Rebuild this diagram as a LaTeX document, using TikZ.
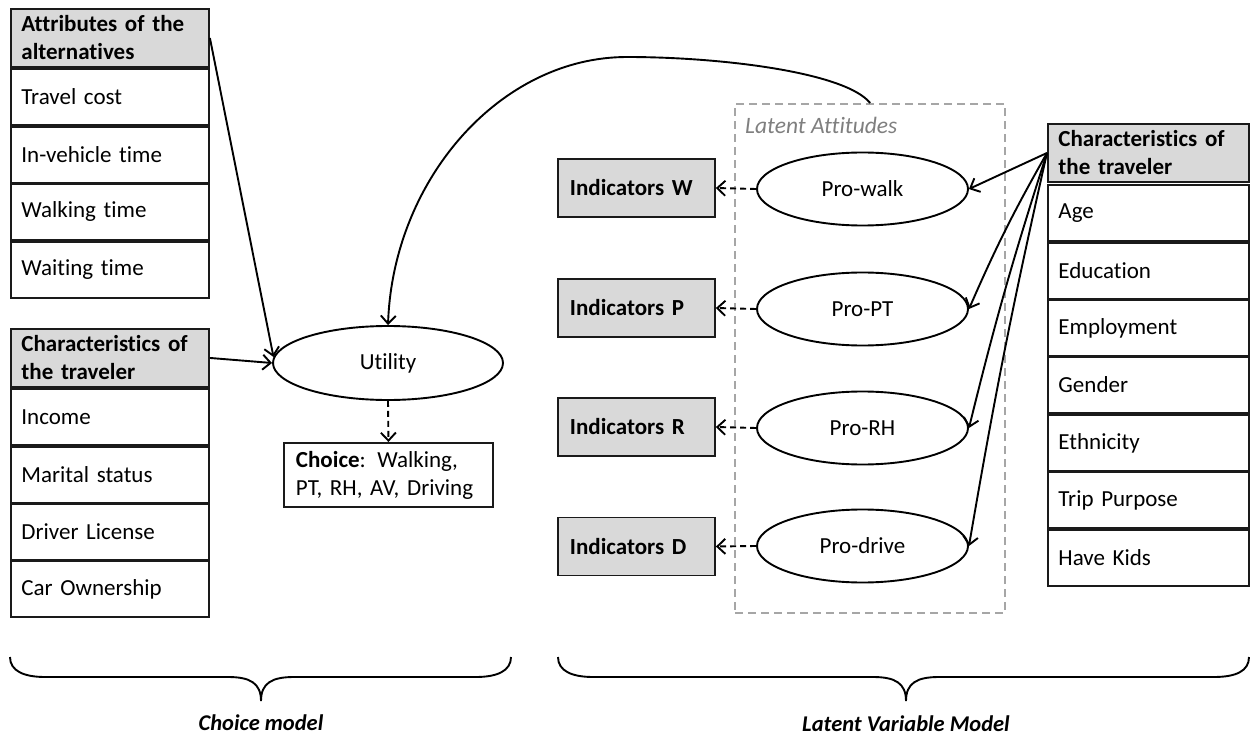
\documentclass[tikz,border=0pt]{standalone}
\usepackage{fontspec}
\setmainfont[Ligatures=NoCommon]{Carlito}
\usetikzlibrary{arrows.meta,shapes.geometric}
\definecolor{hdrgray}{HTML}{D9D9D9}
\definecolor{latgray}{HTML}{A6A6A6}
\definecolor{labgray}{HTML}{7F7F7F}
\definecolor{edge}{HTML}{1A1A1A}
\tikzset{
  txt/.style={font=\fontsize{23}{28}\selectfont},
  lw/.style={line width=1.9pt},
  colhdr/.style={txt, draw=edge, lw, fill=hdrgray, anchor=north west, minimum width=#1,
     text width=#1-21pt, inner xsep=10.5pt, inner ysep=0pt, align=left, minimum height=58pt,
     font=\fontsize{23}{28}\selectfont\bfseries},
  colitem/.style={txt, draw=edge, lw, anchor=north west, minimum width=#1,
     text width=#1-21pt, inner xsep=10.5pt, inner ysep=0pt, align=left, minimum height=56pt},
  indbox/.style={txt, draw=edge, lw, fill=hdrgray, anchor=west, minimum width=157pt,
     text width=133pt, inner xsep=12pt, inner ysep=0pt, align=left, minimum height=58pt,
     font=\fontsize{23}{28}\selectfont\bfseries},
  ell/.style={txt, draw, lw, ellipse, minimum width=211pt, minimum height=73pt, inner sep=0pt},
  arr/.style={lw, -{Straight Barb[length=8pt,width=15pt]}},
  darr/.style={arr, dash pattern=on 6pt off 4pt},
  brace/.style={line width=1.9pt},
  bracelab/.style={font=\fontsize{22.5}{26}\selectfont\bfseries\itshape}
}
\begin{document}
\begin{tikzpicture}[x=1pt,y=1pt]
\useasboundingbox (0,0) rectangle (1251,-738);

% left column: attributes
\node[colhdr=198pt] (ah) at (10,-8) {Attributes of the\\alternatives};
\node[colitem=198pt] (a1) at (10,-68) {Travel cost};
\node[colitem=198pt] (a2) at (10,-126) {In-vehicle time};
\node[colitem=198pt] (a3) at (10,-183) {Walking time};
\node[colitem=198pt] (a4) at (10,-241) {Waiting time};

% left column: characteristics
\node[colhdr=198pt] (ch) at (10,-328) {Characteristics of\\the traveler};
\node[colitem=198pt] (c1) at (10,-388) {Income};
\node[colitem=198pt] (c2) at (10,-446) {Marital status};
\node[colitem=198pt] (c3) at (10,-503) {Driver License};
\node[colitem=198pt] (c4) at (10,-560) {Car Ownership};

% utility and choice
\node[ell, minimum width=230pt, minimum height=74pt] (u) at (388,-363) {Utility};
\node[txt, draw=edge, lw, anchor=north west, minimum width=209pt, minimum height=64pt,
      text width=185pt, inner xsep=12pt, inner ysep=0pt, align=left] (choice) at (283,-442)
      {\textbf{Choice}: Walking,\\PT, RH, AV, Driving};

% latent attitudes box
\node[draw=latgray, line width=2.3pt, dash pattern=on 8pt off 5pt, anchor=north west,
      minimum width=270pt, minimum height=509pt, inner sep=0pt] (lat) at (734,-103) {};
\node[txt, text=labgray, anchor=west, inner sep=0pt, font=\fontsize{23.5}{28}\selectfont\itshape]
      (latlab) at (745,-125) {Latent Attitudes};

% ellipses
\node[ell] (pw) at (862.5,-189) {Pro-walk};
\node[ell] (pp) at (862.5,-309) {Pro-PT};
\node[ell] (pr) at (862.5,-428) {Pro-RH};
\node[ell] (pd) at (862.5,-546) {Pro-drive};

% indicators
\node[indbox] (iw) at (557,-188) {Indicators W};
\node[indbox] (ip) at (557,-308) {Indicators P};
\node[indbox] (ir) at (557,-427) {Indicators R};
\node[indbox] (id) at (557,-546.5) {Indicators D};

% right column
\node[colhdr=201pt] (rh) at (1047,-123) {Characteristics of\\the traveler};
\node[colitem=201pt] (r1) at (1047,-184) {Age};
\node[colitem=201pt] (r2) at (1047,-242) {Education};
\node[colitem=201pt] (r3) at (1047,-299) {Employment};
\node[colitem=201pt] (r4) at (1047,-356) {Gender};
\node[colitem=201pt] (r5) at (1047,-414) {Ethnicity};
\node[colitem=201pt] (r6) at (1047,-471) {Trip Purpose};
\node[colitem=201pt] (r7) at (1047,-529) {Have Kids};

% connectors
\draw[arr] (ah.east) -- (u.177);
\draw[arr] (ch.east) -- (u.west);
\draw[darr] (u.south) -- (choice.north);
\draw[arr] (lat.north) .. controls (845,-72) and (720,-57) .. (627,-57)
           .. controls (500,-57) and (393,-180) .. (u.north);
\draw[darr] (pw.west) -- (iw.east);
\draw[darr] (pp.west) -- (ip.east);
\draw[darr] (pr.west) -- (ir.east);
\draw[darr] (pd.west) -- (id.east);
\draw[arr] (rh.west) -- (pw.east);
\draw[arr] (rh.west) to[bend right=3] (pp.east);
\draw[arr] (rh.west) to[bend right=2] (pr.east);
\draw[arr] (rh.west) to[bend right=1.5] (pd.east);

% braces
\draw[brace] (10,-657) .. controls (10,-671) and (24,-677) .. (45,-677) -- (228,-677)
  .. controls (250,-677) and (261,-683) .. (261,-701)
  .. controls (261,-683) and (272,-677) .. (294,-677) -- (476,-677)
  .. controls (497,-677) and (511,-671) .. (511,-657);
\draw[brace] (558,-657) .. controls (558,-671) and (572,-677) .. (593,-677) -- (873,-677)
  .. controls (895,-677) and (906,-683) .. (906,-701)
  .. controls (906,-683) and (917,-677) .. (939,-677) -- (1214,-677)
  .. controls (1236,-677) and (1249,-671) .. (1249,-657);
\node[bracelab] (cm) at (261,-723) {Choice model};
\node[bracelab] (lvm) at (906,-724) {Latent Variable Model};
\end{tikzpicture}
\end{document}
